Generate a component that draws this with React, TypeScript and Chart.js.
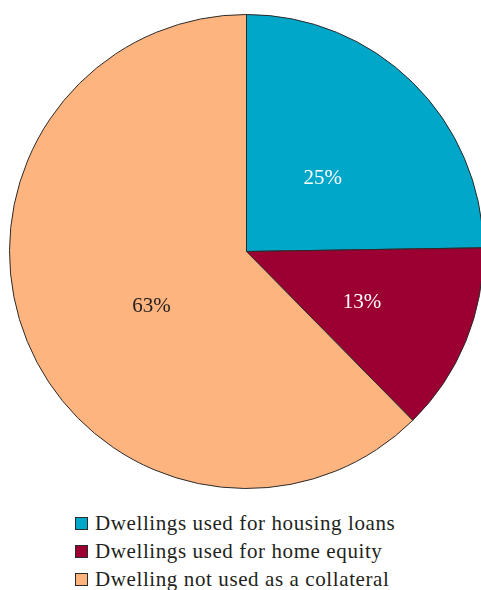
import React, { useEffect, useRef } from "react";
import { Chart, registerables } from "chart.js";

Chart.register(...registerables);

const categories = [
  "Dwellings used for housing loans",
  "Dwellings used for home equity",
  "Dwelling not used as a collateral",
];
const values = [25, 13, 63];
const valueLabels = ["25%", "13%", "63%"];
const colors = ["#00A7C9", "#9C0033", "#FDB47F"];
const labelColors = ["#ffffff", "#ffffff", "#231F20"];
const labelRadius = [0.45, 0.53, 0.46];
const labelAngleShiftDeg = [1, 1, -7];

const FONT = "'Liberation Serif', serif";

const labelPlugin = {
  id: "sliceLabels",
  afterDatasetsDraw(chart: any) {
    const ctx = chart.ctx;
    const meta = chart.getDatasetMeta(0);
    ctx.save();
    ctx.font = `21px ${FONT}`;
    ctx.textAlign = "center";
    ctx.textBaseline = "alphabetic";
    meta.data.forEach((arc: any, i: number) => {
      const { x, y, startAngle, endAngle, outerRadius } = arc.getProps(
        ["x", "y", "startAngle", "endAngle", "outerRadius"],
        true
      );
      const mid = (startAngle + endAngle) / 2 + (labelAngleShiftDeg[i] * Math.PI) / 180;
      const r = outerRadius * labelRadius[i];
      ctx.fillStyle = labelColors[i];
      ctx.fillText(valueLabels[i], x + Math.cos(mid) * r, y + Math.sin(mid) * r + 7);
    });
    ctx.restore();
  },
};

export default function App() {
  const ref = useRef<HTMLCanvasElement | null>(null);
  useEffect(() => {
    if (!ref.current) return;
    const chart = new Chart(ref.current, {
      type: "pie",
      data: {
        labels: categories,
        datasets: [
          {
            data: values,
            backgroundColor: colors,
            borderColor: "#2b2b2b",
            borderWidth: 1,
          },
        ],
      },
      options: {
        animation: false,
        responsive: false,
        layout: { padding: 0 },
        plugins: {
          legend: { display: false },
          tooltip: { enabled: false },
        },
      },
      plugins: [labelPlugin],
    });
    return () => chart.destroy();
  }, []);

  return (
    <div
      style={{
        position: "absolute",
        left: 0,
        top: 0,
        width: 481,
        height: 590,
        overflow: "hidden",
        background: "#fff",
      }}
    >
      <canvas
        ref={ref}
        width={493}
        height={475}
        style={{ position: "absolute", left: 0, top: 14, width: 493, height: 475 }}
      />
      <div
        style={{
          position: "absolute",
          left: 75,
          top: 509,
          fontFamily: FONT,
          fontSize: 21,
          letterSpacing: "0.6px",
          lineHeight: "28px",
          color: "#231F20",
          whiteSpace: "nowrap",
        }}
      >
        {categories.map((c, i) => (
          <div key={c} style={{ position: "relative", paddingLeft: 20, height: 28 }}>
            <span
              style={{
                position: "absolute",
                left: 0,
                top: 8,
                width: 11,
                height: 11,
                background: colors[i],
                border: "1px solid #2b2b2b",
              }}
            />
            {c}
          </div>
        ))}
      </div>
    </div>
  );
}
